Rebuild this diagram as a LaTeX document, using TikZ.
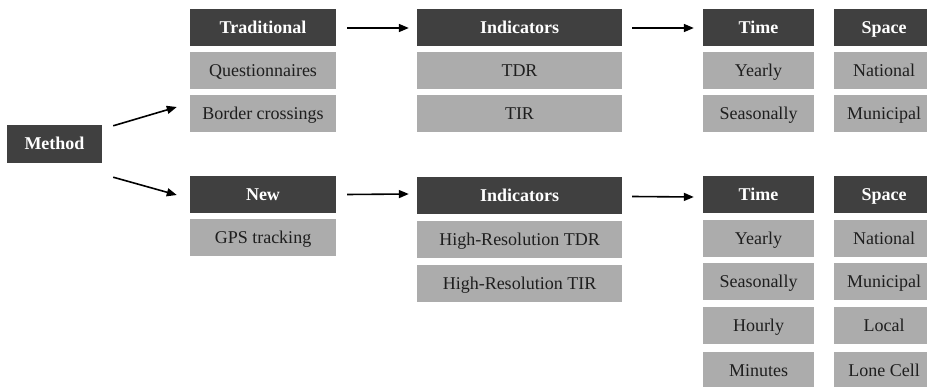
\documentclass[tikz,border=0pt]{standalone}
\usepackage{fontspec}
\setmainfont{Liberation Serif}
\usetikzlibrary{arrows.meta,calc}
\definecolor{darkbox}{RGB}{64,64,64}
\definecolor{lightbox}{RGB}{172,172,172}
\definecolor{txt}{RGB}{30,30,30}
\tikzset{
  hdr/.style={fill=darkbox,text=white,font=\fontsize{18}{20}\selectfont\bfseries,inner sep=0pt,anchor=center,text height=11.8pt,text depth=0pt},
  itm/.style={fill=lightbox,text=txt,font=\fontsize{18}{20}\selectfont,inner sep=0pt,anchor=center,text height=11.8pt,text depth=0pt},
  conn/.style={line width=1.6pt,-{Triangle[length=10pt,width=8pt]}},
}
\begin{document}
\begin{tikzpicture}[x=1pt,y=-1pt]
\useasboundingbox (0,0) rectangle (927,387);
\clip (0,0) rectangle (927,387);
% Method
\node[hdr,minimum width=95pt,minimum height=38pt] (method) at (54.5,144) {Method};
% column 1
\node[hdr,minimum width=146pt,minimum height=37pt] (trad) at (263,27.5) {Traditional};
\node[itm,minimum width=146pt,minimum height=37pt] (quest) at (263,70.5) {Questionnaires};
\node[itm,minimum width=146pt,minimum height=37pt] (border) at (263,114) {Border crossings};
\node[hdr,minimum width=146pt,minimum height=37pt] (new) at (263,194.5) {New};
\node[itm,minimum width=146pt,minimum height=37pt] (gps) at (263,237.5) {GPS tracking};
% column 2
\node[hdr,minimum width=205pt,minimum height=37pt] (indA) at (519.5,27.5) {Indicators};
\node[itm,minimum width=205pt,minimum height=37pt] (tdr) at (519.5,70.5) {TDR};
\node[itm,minimum width=205pt,minimum height=37pt] (tir) at (519.5,114) {TIR};
\node[hdr,minimum width=205pt,minimum height=37pt] (indB) at (519.5,195.5) {Indicators};
\node[itm,minimum width=205pt,minimum height=37pt] (hrtdr) at (519.5,239.5) {High-Resolution TDR};
\node[itm,minimum width=205pt,minimum height=37pt] (hrtir) at (519.5,283.5) {High-Resolution TIR};
% column 3 (Time)
\node[hdr,minimum width=111pt,minimum height=37pt] (timeA) at (758.5,27.5) {Time};
\node[itm,minimum width=111pt,minimum height=37pt] (yearA) at (758.5,70.5) {Yearly};
\node[itm,minimum width=111pt,minimum height=37pt] (seasA) at (758.5,114) {Seasonally};
\node[hdr,minimum width=111pt,minimum height=37pt] (timeB) at (758.5,194.5) {Time};
\node[itm,minimum width=111pt,minimum height=37pt] (yearB) at (758.5,238.5) {Yearly};
\node[itm,minimum width=111pt,minimum height=37pt] (seasB) at (758.5,282) {Seasonally};
\node[itm,minimum width=111pt,minimum height=37pt] (hourB) at (758.5,326) {Hourly};
\node[itm,minimum width=111pt,minimum height=37pt] (minB) at (758.5,370.5) {Minutes};
% column 4 (Space)
\node[hdr,minimum width=100pt,minimum height=37pt] (spaceA) at (884,27.5) {Space};
\node[itm,minimum width=100pt,minimum height=37pt] (natA) at (884,70.5) {National};
\node[itm,minimum width=100pt,minimum height=37pt] (munA) at (884,114) {Municipal};
\node[hdr,minimum width=100pt,minimum height=37pt] (spaceB) at (884,194.5) {Space};
\node[itm,minimum width=100pt,minimum height=37pt] (natB) at (884,238.5) {National};
\node[itm,minimum width=100pt,minimum height=37pt] (munB) at (884,282) {Municipal};
\node[itm,minimum width=100pt,minimum height=37pt] (locB) at (884,326) {Local};
\node[itm,minimum width=100pt,minimum height=37pt] (cellB) at (884,370.5) {Lone Cell};
% connectors
\draw[conn] ($(method.north east)+(11,1)$) -- ($(border.west)+(-13,-7)$);
\draw[conn] ($(method.south east)+(11,14)$) -- ($(new.west)+(-13,0.5)$);
\draw[conn] ($(trad.east)+(11,0.5)$) -- ($(indA.west)+(-8,0.5)$);
\draw[conn] ($(new.east)+(11,0)$) -- ($(indB.west)+(-8,-1.5)$);
\draw[conn] ($(indA.east)+(10,0.5)$) -- ($(timeA.west)+(-9,0.5)$);
\draw[conn] ($(indB.east)+(10,1)$) -- ($(timeB.west)+(-9,2.5)$);
\end{tikzpicture}
\end{document}
